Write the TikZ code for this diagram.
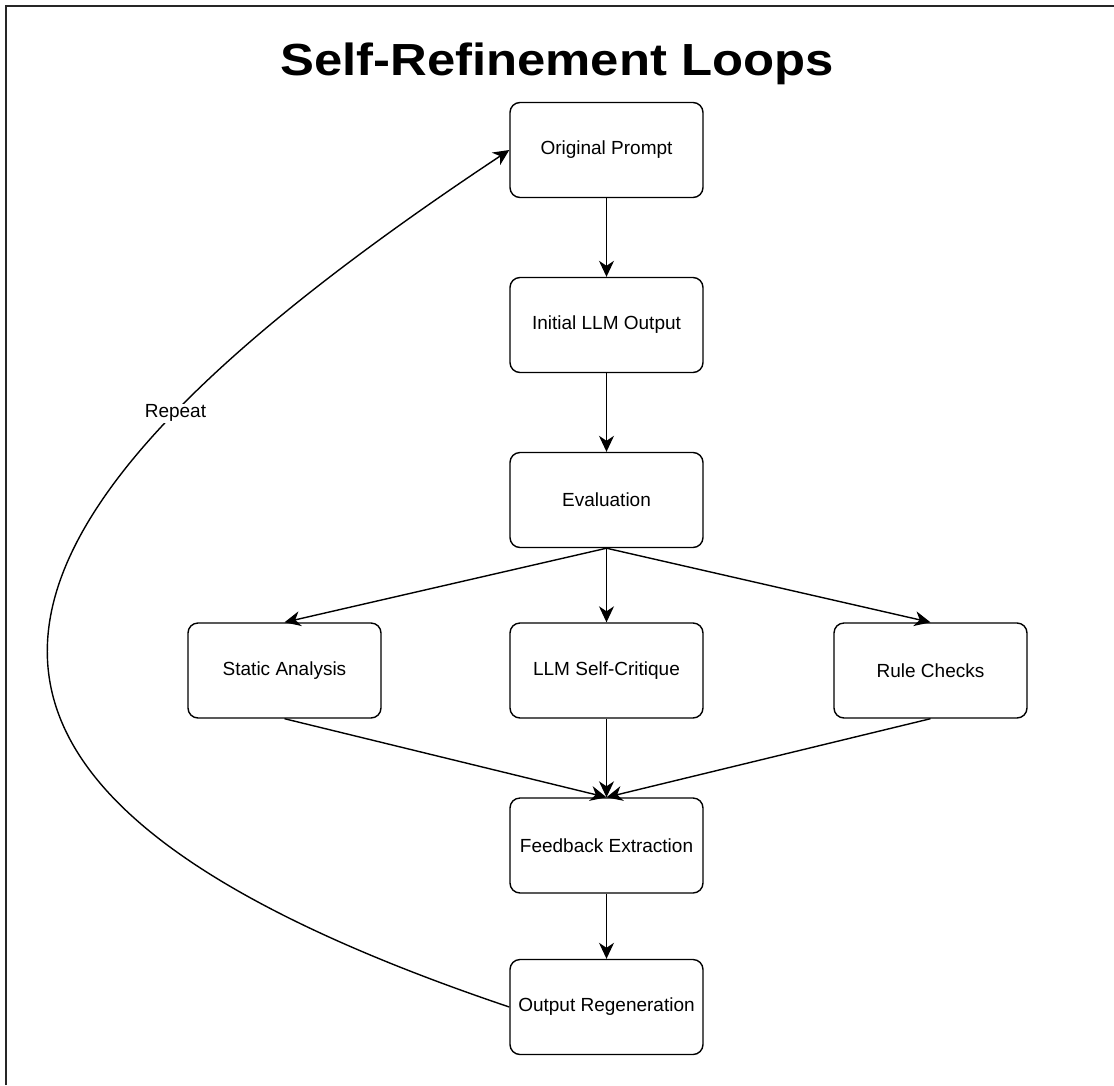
\documentclass[tikz,border=0pt]{standalone}
\usepackage{fontspec}
\setmainfont{Liberation Sans}
\usetikzlibrary{arrows.meta, positioning}

\begin{document}
\begin{tikzpicture}[x=1pt, y=-1pt,
    box/.style={draw, rounded corners=10pt, line width=1.4pt,
        minimum width=193pt, minimum height=95pt, inner sep=0pt,
        font=\fontsize{19}{23}\selectfont},
    flow/.style={-{Stealth[length=16pt, width=15pt, inset=5pt]}, line width=1.4pt}]
\useasboundingbox (0,0) rectangle (1114,1085);
% Outer frame
\draw[line width=2pt, black!85] (6,1085) -- (6,6) -- (1114,6);
\node[anchor=base, font=\bfseries\fontsize{45}{54}\selectfont] (title) at (557,75)
    {\scalebox{1.13}[1]{Self-Refinement Loops}};
% Main column
\node[box] (prompt) at (606.5,150) {Original Prompt};
\node[box] (initial) at (606.5,325) {Initial LLM Output};
\node[box] (eval) at (606.5,500) {Evaluation};
% Three checks side by side
\node[box] (static) at (284.5,670.5) {Static Analysis};
\node[box] (critique) at (606.5,670.5) {LLM Self-Critique};
\node[box] (rules) at (930.5,670.5) {Rule Checks};
\node[box] (feedback) at (606.5,845.5) {Feedback Extraction};
\node[box] (regen) at (606.5,1007) {Output Regeneration};
\draw[flow] (prompt) -- (initial);
\draw[flow] (initial) -- (eval);
\foreach \n in {static, critique, rules} {
    \draw[flow] (eval.south) -- (\n.north);
    \draw[flow] (\n.south) -- (feedback.north);
}
\draw[flow] (feedback) -- (regen);
% Loop back to the prompt
\draw[flow] (regen.west) .. controls +(-655,-221) and +(-573,380) .. (prompt.west)
    node[pos=0.75, fill=white, inner sep=1pt, font=\fontsize{19}{23}\selectfont] (repeat) {Repeat};
\end{tikzpicture}
\end{document}
